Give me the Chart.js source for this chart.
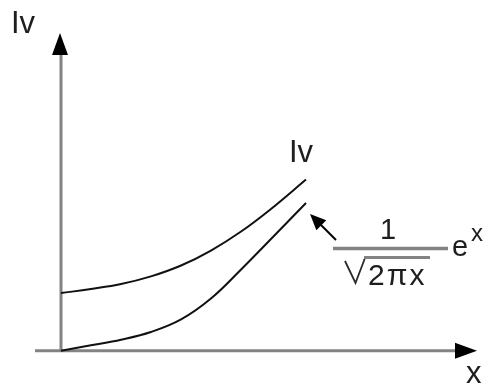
<!DOCTYPE html>
<html>
<head>
<meta charset="utf-8">
<script src="https://cdn.jsdelivr.net/npm/chart.js@4.4.1/dist/chart.umd.min.js"></script>
<style>
  html, body { margin: 0; padding: 0; background: #fff; }
  #wrap { width: 485px; height: 386px; position: relative; }
</style>
</head>
<body>
<div id="wrap"><canvas id="c"></canvas></div>
<script>
// Sample points along x for both curves
const xPoints = [0, 1.22, 2.45, 3.67, 4.9, 6.12, 7.35, 8.57, 10];
// Iv curve (upper)
const ivValues = [3.39, 3.63, 3.92, 4.37, 5.01, 5.89, 7.01, 8.34, 10.07];
// asymptotic form e^x / sqrt(2*pi*x) (lower)
const asymValues = [0, 0.32, 0.65, 1.10, 1.84, 3.07, 4.78, 6.57, 8.69];

const toPts = (xs, ys) => xs.map((x, i) => ({ x: x, y: ys[i] }));

const FONT = '"Liberation Sans", Arial, sans-serif';
const TEXT = '#1e1e1e';
const AXIS = '#838383';

function arrowHead(ctx, tipX, tipY, angle, len, half) {
  ctx.save();
  ctx.translate(tipX, tipY);
  ctx.rotate(angle);
  ctx.beginPath();
  ctx.moveTo(0, 0);
  ctx.lineTo(-len, -half);
  ctx.lineTo(-len, half);
  ctx.closePath();
  ctx.fillStyle = '#000';
  ctx.fill();
  ctx.restore();
}

// Axes with arrows, drawn beneath the curves
const axesPlugin = {
  id: 'axes',
  beforeDatasetsDraw(chart) {
    const ctx = chart.ctx;
    const xs = chart.scales.x, ys = chart.scales.y;
    const ox = xs.getPixelForValue(0), oy = ys.getPixelForValue(0);
    ctx.save();
    ctx.strokeStyle = AXIS;
    ctx.lineWidth = 3;
    ctx.lineCap = 'butt';
    // horizontal axis
    ctx.beginPath();
    ctx.moveTo(35, oy);
    ctx.lineTo(460, oy);
    ctx.stroke();
    // vertical axis
    ctx.beginPath();
    ctx.moveTo(ox, oy + 1);
    ctx.lineTo(ox, 50);
    ctx.stroke();
    arrowHead(ctx, 477, oy, 0, 22, 8);
    arrowHead(ctx, ox - 1, 33, -Math.PI / 2, 22, 8);
    ctx.restore();
  }
};

// Text labels and the pointer to the lower curve
const labelPlugin = {
  id: 'labels',
  afterDatasetsDraw(chart) {
    const ctx = chart.ctx;
    ctx.save();
    ctx.fillStyle = TEXT;
    ctx.textBaseline = 'alphabetic';
    ctx.textAlign = 'left';
    ctx.font = '31px ' + FONT;
    ctx.fillText('Iv', 11, 33);
    ctx.fillText('Iv', 289, 162);
    ctx.fillText('x', 466, 383);

    // pointer arrow
    ctx.strokeStyle = '#000';
    ctx.lineWidth = 2;
    ctx.beginPath();
    ctx.moveTo(336, 240);
    ctx.lineTo(318, 222);
    ctx.stroke();
    arrowHead(ctx, 310, 214, Math.atan2(214 - 240, 310 - 336), 16, 7);

    // fraction 1 / sqrt(2 pi x) times e^x
    ctx.textAlign = 'center';
    ctx.font = '29px ' + FONT;
    ctx.fillText('1', 388, 239);
    ctx.strokeStyle = AXIS;
    ctx.lineWidth = 3.5;
    ctx.beginPath();
    ctx.moveTo(333, 248.5);
    ctx.lineTo(448, 248.5);
    ctx.stroke();

    // radical sign with its overline
    ctx.strokeStyle = '#2a2a2a';
    ctx.lineWidth = 1.8;
    ctx.beginPath();
    ctx.moveTo(345, 261);
    ctx.lineTo(355.5, 283);
    ctx.lineTo(365, 258);
    ctx.stroke();
    ctx.strokeStyle = AXIS;
    ctx.lineWidth = 3;
    ctx.beginPath();
    ctx.moveTo(364, 257.5);
    ctx.lineTo(430, 257.5);
    ctx.stroke();

    ctx.textAlign = 'left';
    ctx.font = '30px ' + FONT;
    ctx.letterSpacing = '2px';
    ctx.fillText('2\u03C0x', 368, 285);
    ctx.letterSpacing = '0px';

    ctx.font = '29px ' + FONT;
    ctx.fillText('e', 452, 256);
    ctx.font = '24px ' + FONT;
    ctx.fillText('x', 471, 241);
    ctx.restore();
  }
};

new Chart(document.getElementById('c'), {
  type: 'scatter',
  data: {
    datasets: [
      {
        label: 'Iv',
        data: toPts(xPoints, ivValues),
        showLine: true,
        borderColor: '#111',
        borderWidth: 2,
        pointRadius: 0,
        tension: 0.4
      },
      {
        label: 'e^x / sqrt(2πx)',
        data: toPts(xPoints, asymValues),
        showLine: true,
        borderColor: '#111',
        borderWidth: 2,
        pointRadius: 0,
        tension: 0.4
      }
    ]
  },
  options: {
    responsive: true,
    maintainAspectRatio: false,
    animation: false,
    layout: { padding: 0 },
    plugins: {
      legend: { display: false },
      tooltip: { enabled: false }
    },
    scales: {
      x: { type: 'linear', display: false, min: -2.49, max: 17.306 },
      y: { type: 'linear', display: false, min: -2.076, max: 20.63 }
    }
  },
  plugins: [axesPlugin, labelPlugin]
});
</script>
</body>
</html>
